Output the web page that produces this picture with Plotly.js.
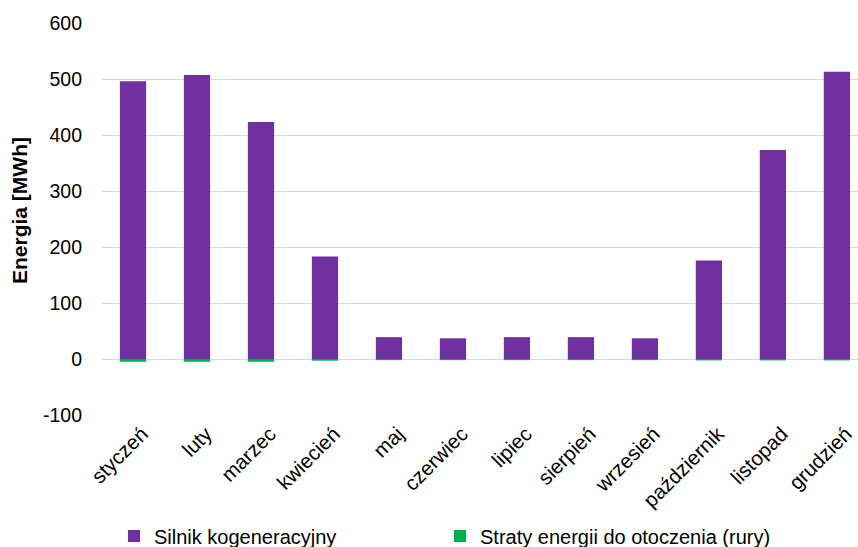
<!DOCTYPE html>
<html>
<head>
<meta charset="utf-8">
<script src="https://cdn.plot.ly/plotly-3.0.1.min.js"></script>
<style>
  html, body { margin: 0; padding: 0; background: #fff; }
  #chart { width: 858px; height: 547px; }
</style>
</head>
<body>
<div id="chart"></div>
<script>
// Monthly energy balance [MWh]
const months = ['styczeń', 'luty', 'marzec', 'kwiecień', 'maj', 'czerwiec',
                'lipiec', 'sierpień', 'wrzesień', 'październik', 'listopad', 'grudzień'];
const chpEngine = [496, 507, 423, 183, 39, 37, 39, 39, 37, 176, 373, 513];
const pipeLosses = [-5, -5, -5, -3, -2, -2, -2, -2, -2, -2.5, -2.5, -2.5];
const yTicks = [-100, 0, 100, 200, 300, 400, 500, 600];

const font = 'Liberation Sans, Arial, sans-serif';

const traces = [
  {
    type: 'bar', name: 'Silnik kogeneracyjny', legend: 'legend',
    x: months, y: chpEngine,
    marker: { color: '#7030A0' }, width: 0.41, hoverinfo: 'x+y'
  },
  {
    type: 'bar', name: 'Straty energii do otoczenia (rury)', legend: 'legend2',
    x: months, y: pipeLosses,
    marker: { color: '#00B050' }, width: 0.41, hoverinfo: 'x+y'
  }
];

const legendBase = {
  orientation: 'h', xref: 'container', yref: 'container',
  y: 0.02, xanchor: 'left', yanchor: 'middle',
  font: { family: font, size: 20, color: '#000' },
  itemclick: false, itemwidth: 30, bgcolor: 'rgba(0,0,0,0)'
};

const layout = {
  width: 858, height: 547,
  margin: { l: 101, r: 0, t: 23, b: 132 },
  paper_bgcolor: '#fff', plot_bgcolor: '#fff',
  barmode: 'relative',
  font: { family: font, size: 19, color: '#000' },
  showlegend: true,
  legend: Object.assign({}, legendBase, { x: 114 / 858 }),
  legend2: Object.assign({}, legendBase, { x: 440 / 858 }),
  xaxis: {
    type: 'category', range: [-0.5, 11.33],
    tickangle: -45, ticks: '', showgrid: false, showline: false,
    ticklabelshift: 9, ticklabelstandoff: 2,
    tickfont: { family: font, size: 20.5, color: '#000' }, automargin: false
  },
  yaxis: {
    range: [-100, 600], tickvals: yTicks, ticktext: yTicks.map(String),
    showgrid: true, gridcolor: '#d9d9d9', gridwidth: 1,
    zeroline: true, zerolinecolor: '#d9d9d9', zerolinewidth: 1,
    showline: false, ticks: '', ticklabelstandoff: 18,
    tickfont: { family: font, size: 19.5, color: '#000' },
    automargin: false
  },
  annotations: [{
    text: '<b>Energia [MWh]</b>', textangle: -90, showarrow: false,
    xref: 'paper', yref: 'paper', x: (19 - 101) / 757, y: (415 - 211) / 392,
    xanchor: 'center', yanchor: 'middle',
    font: { family: font, size: 21, color: '#000' }
  }]
};

Plotly.newPlot('chart', traces, layout, { displayModeBar: false, staticPlot: true });
</script>
</body>
</html>
